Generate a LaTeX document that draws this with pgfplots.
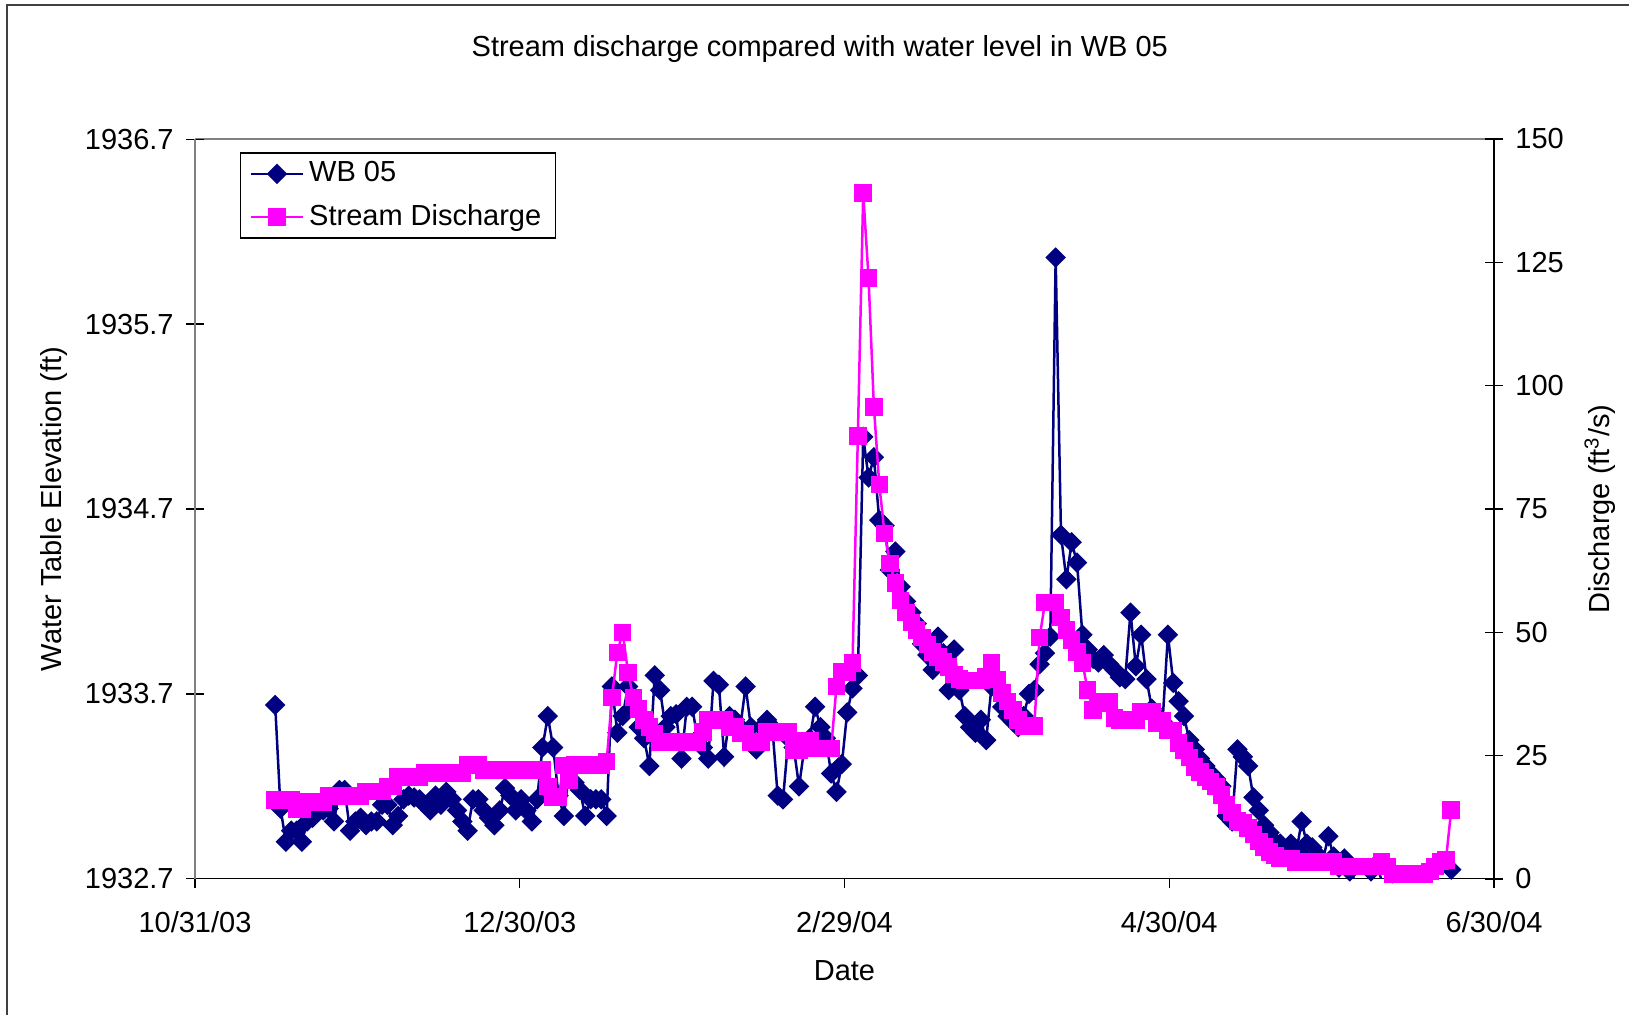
\documentclass[border=0pt]{standalone}
\usepackage{fontspec}
\setmainfont{Liberation Sans}
\usepackage{pgfplots}
\usepackage{pgfplotstable}
\pgfplotsset{compat=1.18}
\definecolor{wbnavy}{HTML}{000080}
\definecolor{qmag}{HTML}{FF00FF}

% day = days after 10/31/03; wb = water level (ft); q = discharge (ft3/s)
\pgfplotstableread{
d wb q
15 1933.64 16.0
16 1933.08 16.0
17 1932.90 16.0
18 1932.96 16.0
19 1932.96 14.2
20 1932.90 14.2
21 1933.01 15.6
22 1933.03 15.6
23 1933.06 15.6
24 1933.07 15.6
25 1933.08 16.8
26 1933.01 16.8
27 1933.18 16.8
28 1933.18 16.8
29 1932.96 16.8
30 1933.01 16.8
31 1933.03 16.8
32 1932.99 17.7
33 1933.01 17.7
34 1933.01 17.7
35 1933.10 17.7
36 1933.10 18.7
37 1932.99 18.7
38 1933.04 20.7
39 1933.13 20.7
40 1933.15 20.7
41 1933.14 20.7
42 1933.13 20.7
43 1933.10 21.5
44 1933.07 21.5
45 1933.15 21.5
46 1933.10 21.5
47 1933.17 21.5
48 1933.13 21.5
49 1933.07 21.5
50 1933.01 21.5
51 1932.96 23.1
52 1933.13 23.1
53 1933.13 23.1
54 1933.07 22.1
55 1933.03 22.1
56 1932.99 22.1
57 1933.07 22.1
58 1933.19 22.1
59 1933.15 22.1
60 1933.07 22.1
61 1933.13 22.1
62 1933.07 22.1
63 1933.01 22.1
64 1933.13 22.1
65 1933.41 22.1
66 1933.58 18.7
67 1933.41 16.6
68 1933.15 16.6
69 1933.04 23.0
70 1933.29 20.0
71 1933.22 23.1
72 1933.18 23.1
73 1933.04 23.1
74 1933.13 23.1
75 1933.13 23.1
76 1933.13 23.1
77 1933.04 23.8
78 1933.74 36.8
79 1933.49 45.9
80 1933.58 50.0
81 1933.74 41.9
82 1933.63 36.8
83 1933.52 34.5
84 1933.46 32.2
85 1933.31 30.8
86 1933.80 29.5
87 1933.72 27.8
88 1933.52 27.8
89 1933.58 27.8
90 1933.59 27.8
91 1933.35 27.8
92 1933.63 27.8
93 1933.63 27.8
94 1933.46 27.8
95 1933.41 29.8
96 1933.35 32.2
97 1933.77 32.2
98 1933.75 32.2
99 1933.36 32.2
100 1933.58 30.8
101 1933.56 30.8
102 1933.52 29.5
103 1933.74 29.5
104 1933.52 27.8
105 1933.40 27.8
106 1933.52 27.8
107 1933.56 29.8
108 1933.52 29.8
109 1933.15 29.8
110 1933.13 29.8
111 1933.46 29.8
112 1933.41 26.1
113 1933.20 26.1
114 1933.41 28.1
115 1933.46 28.1
116 1933.63 26.5
117 1933.52 26.5
118 1933.46 26.5
119 1933.27 26.5
120 1933.17 39.0
121 1933.32 42.0
122 1933.60 42.0
123 1933.73 43.8
124 1933.80 89.8
125 1935.09 139.0
126 1934.87 121.8
127 1934.98 95.7
128 1934.64 80.0
129 1934.61 70.0
130 1934.37 64.0
131 1934.47 60.0
132 1934.28 56.5
133 1934.20 54.0
134 1934.14 52.0
135 1934.08 50.5
136 1933.97 49.0
137 1933.91 47.5
138 1933.83 46.0
139 1934.01 45.0
140 1933.92 44.0
141 1933.72 43.0
142 1933.94 41.5
143 1933.72 40.5
144 1933.58 40.2
145 1933.52 40.2
146 1933.49 40.2
147 1933.56 40.2
148 1933.45 41.0
149 1933.74 43.8
150 1933.74 40.4
151 1933.63 37.7
152 1933.58 36.0
153 1933.55 34.3
154 1933.52 32.2
155 1933.58 31.0
156 1933.70 31.0
157 1933.72 31.0
158 1933.86 49.0
159 1933.92 56.0
160 1934.01 56.0
161 1936.06 56.0
162 1934.56 53.0
163 1934.32 50.5
164 1934.52 48.4
165 1934.41 46.0
166 1934.02 43.8
167 1933.94 38.3
168 1933.89 34.3
169 1933.87 35.6
170 1933.91 36.0
171 1933.86 36.0
172 1933.83 32.6
173 1933.79 32.2
174 1933.78 32.2
175 1934.14 32.2
176 1933.85 32.2
177 1934.02 33.9
178 1933.78 33.9
179 1933.62 33.9
180 1933.58 31.6
181 1933.55 32.0
182 1934.02 30.1
183 1933.76 30.1
184 1933.66 27.6
185 1933.58 26.0
186 1933.45 24.6
187 1933.40 22.7
188 1933.35 21.7
189 1933.31 20.6
190 1933.27 19.8
191 1933.24 18.7
192 1933.20 17.0
193 1933.04 15.0
194 1933.01 13.5
195 1933.40 11.8
196 1933.36 11.4
197 1933.31 10.3
198 1933.14 9.0
199 1933.07 7.6
200 1932.99 6.5
201 1932.95 5.5
202 1932.90 4.8
203 1932.89 4.2
204 1932.85 4.2
205 1932.89 4.2
206 1932.84 3.4
207 1933.01 3.4
208 1932.89 3.4
209 1932.87 3.4
210 1932.83 3.4
211 1932.80 3.4
212 1932.93 3.4
213 1932.82 3.4
214 1932.76 2.5
215 1932.81 2.5
216 1932.74 2.5
217 1932.69 2.5
218 1932.62 2.5
219 1932.67 2.5
220 1932.74 2.5
221 1932.78 2.5
222 1932.69 3.5
223 1932.62 2.5
224 1932.73 1.0
225 1932.60 1.0
226 1932.57 1.0
227 1932.55 1.0
228 1932.57 1.0
229 1932.54 1.0
230 1932.55 1.0
231 1932.52 1.5
232 1932.55 2.5
233 1932.57 3.5
234 1932.55 3.8
235 1932.75 14.0
}\obs

\pgfplotsset{
  base/.style={
    at={(78pt,54.4pt)}, anchor=south west,
    width=519.6pt, height=296pt, scale only axis,
    xmin=0, xmax=243,
    tick style={black, line width=0.5pt},
  },
}

\begin{document}
\fontsize{11.6}{13.9}\selectfont
\begin{tikzpicture}
\useasboundingbox (0,0) rectangle (651.6pt,406pt);
\draw[black!75, line width=0.8pt] (2.8pt,-2pt) -- (2.8pt,404pt) -- (660pt,404pt);

% date axis, title and top border
\begin{axis}[base,
  ymin=0, ymax=1,
  axis x line*=bottom, axis y line=none,
  tick align=outside, major tick length=3.6pt,
  xtick={0,60.75,121.5,182.25,243},
  xticklabels={10/31/03,12/30/03,2/29/04,4/30/04,6/30/04},
  xticklabel style={yshift=-5.2pt},
  xlabel={Date},
  xlabel style={at={(axis description cs:0.5,-0.124)}, anchor=center},
  title={Stream discharge compared with water level in WB 05},
  every axis title shift=0pt,
  title style={at={(axis description cs:0.481,1.1216)}, anchor=center},
]
\draw[gray, line width=0.6pt] (rel axis cs:0,1) -- (rel axis cs:1,1);
\end{axis}

% water level
\begin{axis}[base,
  ymin=1932.699, ymax=1936.701,
  axis y line*=left, axis x line=none,
  y axis line style={gray, line width=0.6pt},
  tick align=center, major tick length=7pt,
  ytick={1932.7,1933.7,1934.7,1935.7,1936.7},
  yticklabels={1932.7,1933.7,1934.7,1935.7,1936.7},
  scaled y ticks=false,
  yticklabel style={xshift=-1pt},
  ylabel={Water Table Elevation (ft)},
  ylabel style={at={(axis description cs:-0.1085,0.5)}, anchor=center},
]
\addplot[wbnavy, line width=1pt, mark=square*, mark size=2.4pt,
  mark options={rotate=45, solid}] table[x=d, y=wb] {\obs};
\end{axis}

% discharge
\begin{axis}[base,
  ymin=0, ymax=150,
  axis y line*=right, axis x line=none,
  y axis line style={black, line width=0.6pt},
  tick align=center, major tick length=7pt,
  ytick={0,25,50,75,100,125,150},
  yticklabels={0,25,50,75,100,125,150},
  yticklabel style={xshift=1pt},
  ylabel={Discharge (ft\textsuperscript{3}/s)},
  ylabel style={at={(axis description cs:1.0816,0.5)}, anchor=center},
  legend style={at={(axis description cs:0.0346,0.9824)}, anchor=north west,
    draw=black, line width=0.6pt, fill=white,
    inner xsep=3.6pt, inner ysep=1.5pt, row sep=3.2pt},
  legend cell align=left,
  legend image code/.code={\draw[mark repeat=2,mark phase=2,#1]
    plot coordinates {(0pt,0pt) (10.4pt,0pt) (20.8pt,0pt)};},
]
\addlegendimage{wbnavy, line width=1pt, mark=square*, mark size=2.4pt,
  mark options={rotate=45, solid}}
\addlegendentry{WB 05}
\addplot[qmag, line width=1pt, mark=square*, mark size=3pt] table[x=d, y=q] {\obs};
\addlegendentry{Stream Discharge}
\end{axis}
\end{tikzpicture}
\end{document}
